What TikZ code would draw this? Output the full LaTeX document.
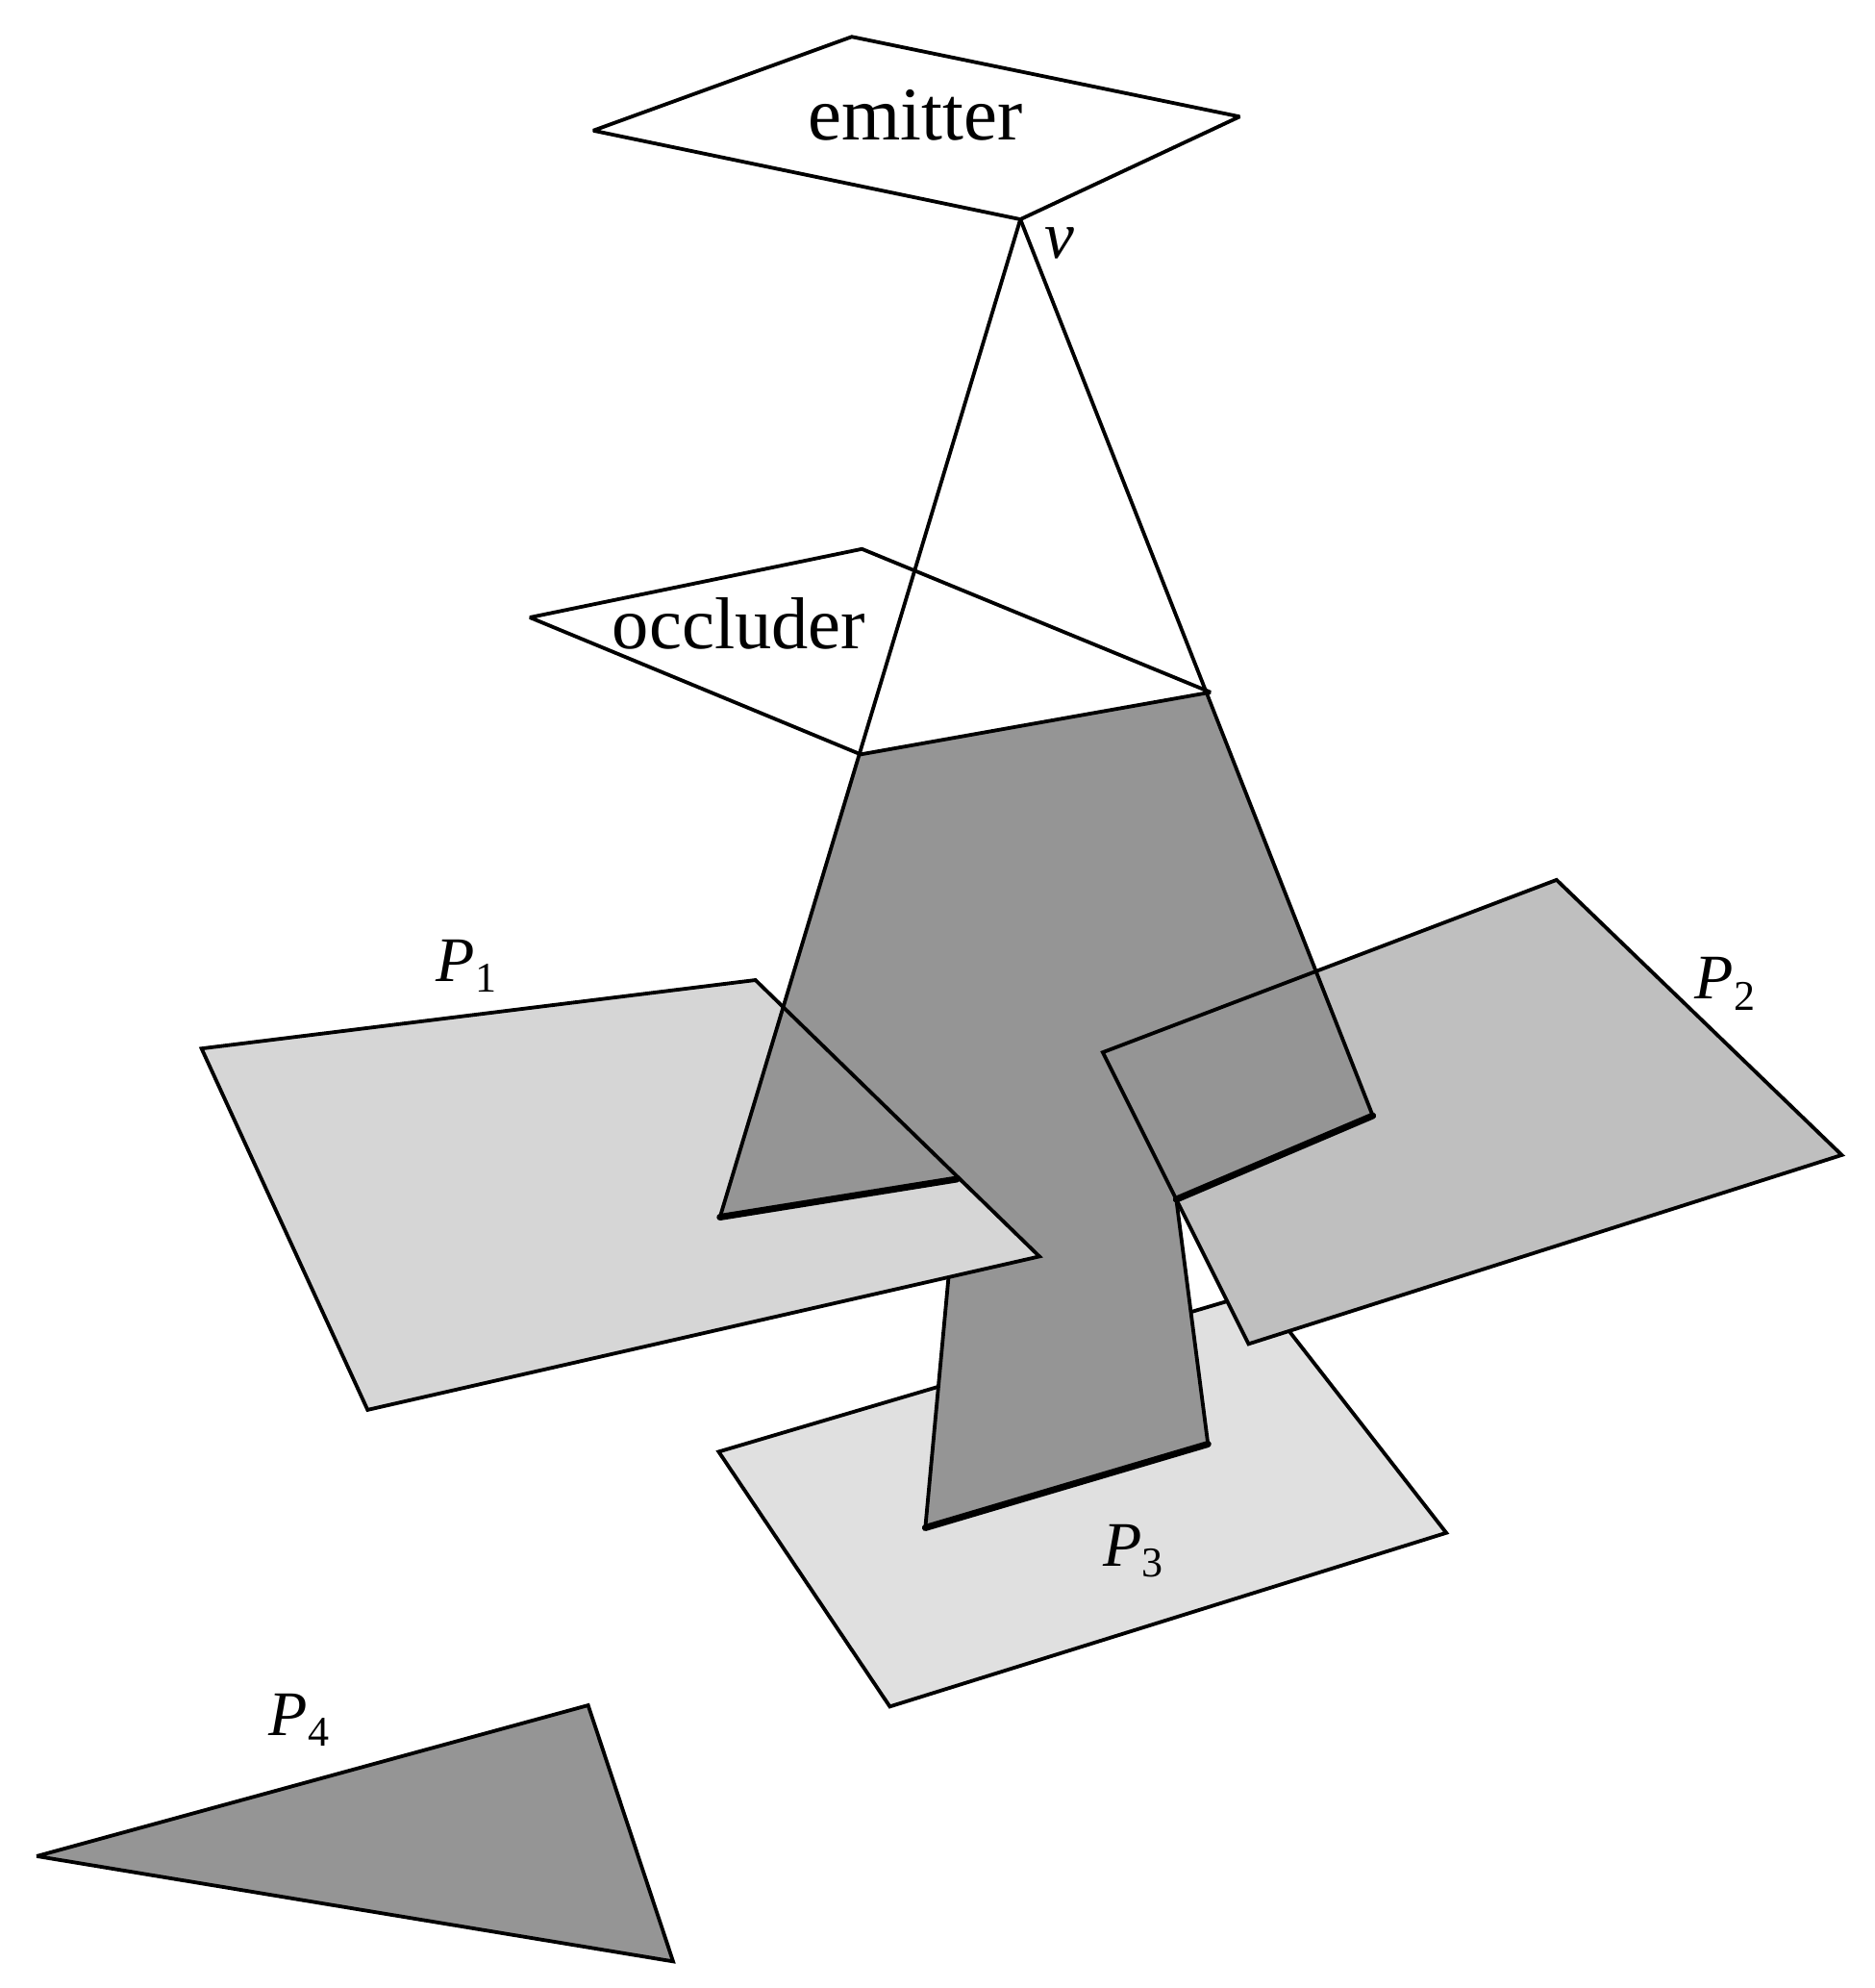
\documentclass[tikz,border=0pt]{standalone}
\usepackage{fontspec}
\setmainfont{Liberation Serif}
\newcommand{\plab}[1]{{\itshape P}\raisebox{-0.17em}{\fontsize{19}{19}\selectfont #1}}
\tikzset{
  edge/.style={draw=black,line width=1.65pt,line join=miter,miter limit=3},
  thickedge/.style={draw=black,line width=3pt,line cap=round},
  lab/.style={inner sep=0pt,anchor=base west,font=\fontsize{28.5}{28.5}\selectfont},
  word/.style={inner sep=0pt,anchor=base}
}
\definecolor{pone}{HTML}{D6D6D6}
\definecolor{ptwo}{HTML}{BFBFBF}
\definecolor{pthree}{HTML}{E0E0E0}
\definecolor{dark}{HTML}{959595}
\begin{document}
\begin{tikzpicture}[x=0.02cm,y=-0.02cm]
\useasboundingbox (0,0) rectangle (1479,1568);
% emitter
\coordinate (e1) at (672,29); \coordinate (e2) at (978,92);
\coordinate (v) at (805,173); \coordinate (e4) at (468,103);
% occluder
\coordinate (o1) at (680,433); \coordinate (o2) at (955,546);
\coordinate (o3) at (679,595); \coordinate (o4) at (418,487);
\coordinate (s1) at (950,546);
% shadow
\coordinate (a) at (568,960); \coordinate (b) at (755,930);
\coordinate (c) at (1083,880); \coordinate (d) at (928,946);
\coordinate (f) at (953,1139); \coordinate (g) at (730,1205);
\coordinate (h) at (749,1000); \coordinate (m) at (900,1000);
% planes
\coordinate (p11) at (159,827); \coordinate (p12) at (596,773);
\coordinate (p13) at (820,991); \coordinate (p14) at (290,1112);
\coordinate (p21) at (1228,694); \coordinate (p22) at (1453,911);
\coordinate (p23) at (985,1060); \coordinate (p24) at (870,830);
\coordinate (p31) at (567,1145); \coordinate (p32) at (993,1019);
\coordinate (p33) at (1141,1209); \coordinate (p34) at (702,1346);
\coordinate (p41) at (29,1464); \coordinate (p42) at (464,1345);
\coordinate (p43) at (531,1547);
% P3, P4
\draw[edge,fill=pthree] (p31)--(p32)--(p33)--(p34)--cycle;
\draw[edge,fill=dark] (p41)--(p42)--(p43)--cycle;
% lower shadow
\fill[dark] (d)--(f)--(g)--(h)--(p13)--cycle;
\draw[edge] (d)--(f);
\draw[edge] (g)--(h);
% P1, P2
\fill[pone] (p11)--(p12)--(p13)--(p14)--cycle;
\fill[ptwo] (p21)--(p22)--(p23)--(p24)--cycle;
% upper shadow
\fill[dark] (o3)--(s1)--(c)--(d)--(m)--(p13)--(b)--(a)--cycle;
% outlines over shadow
\draw[edge] (p11)--(p12)--(p13)--(p14)--cycle;
\draw[edge] (p21)--(p22)--(p23)--(p24)--cycle;
\draw[thickedge] (a)--(b);
\draw[thickedge] (c)--(d);
\draw[thickedge] (g)--(f);
\draw[edge] (v)--(a);
\draw[edge] (v)--(c);
% emitter and occluder
\draw[edge] (e1)--(e2)--(v)--(e4)--cycle;
\draw[edge] (o1)--(o2)--(o3)--(o4)--cycle;
\node[word,font=\fontsize{34}{34}\selectfont] (emit) at (722,110) {emitter};
\node[word,font=\fontsize{33}{33}\selectfont] (occl) at (583,512) {occluder};
\node[lab,font=\fontsize{30}{30}\selectfont\itshape] (vlab) at (824,204) {v};
\node[lab] (l1) at (344,774) {\plab{1}};
\node[lab] (l2) at (1337,788) {\plab{2}};
\node[lab] (l3) at (870,1235) {\plab{3}};
\node[lab] (l4) at (212,1369) {\plab{4}};
\end{tikzpicture}
\end{document}
